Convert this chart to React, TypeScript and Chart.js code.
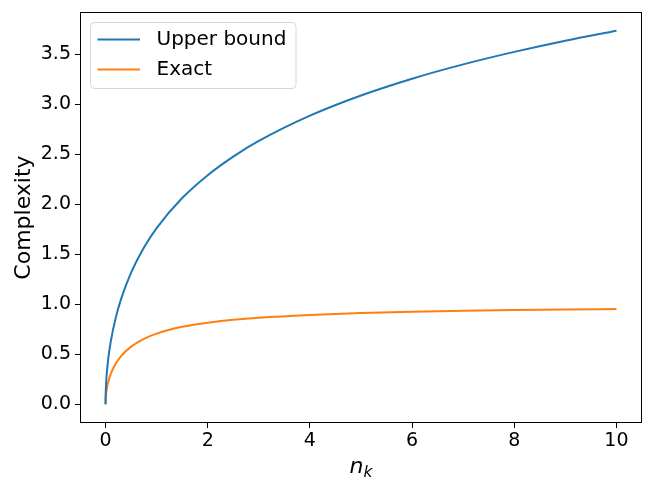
import React, { useEffect, useRef } from "react";
import { Chart, registerables } from "chart.js";

Chart.register(...registerables);

// n_k sample positions and curve values
const nk = [0, 0.002, 0.005, 0.01, 0.02, 0.05, 0.1, 0.2, 0.3, 0.5, 0.75, 1, 1.5, 2, 2.5, 3, 4, 5, 6, 7, 8, 9, 10];
const upperBound = [0, 0.089, 0.141, 0.2, 0.282, 0.444, 0.622, 0.867, 1.047, 1.317, 1.567, 1.763, 2.063, 2.292, 2.478, 2.634, 2.887, 3.089, 3.257, 3.4, 3.525, 3.637, 3.737];
const exact = [0, 0.045, 0.0705, 0.0995, 0.14, 0.218, 0.302, 0.408, 0.48, 0.577, 0.655, 0.707, 0.775, 0.816, 0.845, 0.866, 0.894, 0.913, 0.926, 0.935, 0.943, 0.949, 0.953];
const seriesLabels = ["Upper bound", "Exact"];
const xTicks = [0, 2, 4, 6, 8, 10];
const yTicks = [0, 0.5, 1, 1.5, 2, 2.5, 3, 3.5];
const xTitle = "n";
const xTitleSub = "k";
const yTitle = "Complexity";

const FONT = '"DejaVu Sans", "Liberation Sans", sans-serif';
const COLORS = ["#1f77b4", "#ff7f0e"];

const framePlugin = {
  id: "frameAndLabels",
  afterDatasetsDraw(chart: any) {
    const { ctx, chartArea } = chart;
    const { left, right, top, bottom } = chartArea;
    ctx.save();
    // spines
    ctx.strokeStyle = "#000";
    ctx.lineWidth = 1;
    ctx.strokeRect(left + 0.5, top + 0.5, right - left - 1, bottom - top - 1);

    // legend
    const lx = 90.5, ly = 22.5, lw = 205.5, lh = 66;
    const r = 4;
    ctx.beginPath();
    ctx.moveTo(lx + r, ly);
    ctx.lineTo(lx + lw - r, ly);
    ctx.arcTo(lx + lw, ly, lx + lw, ly + r, r);
    ctx.lineTo(lx + lw, ly + lh - r);
    ctx.arcTo(lx + lw, ly + lh, lx + lw - r, ly + lh, r);
    ctx.lineTo(lx + r, ly + lh);
    ctx.arcTo(lx, ly + lh, lx, ly + lh - r, r);
    ctx.lineTo(lx, ly + r);
    ctx.arcTo(lx, ly, lx + r, ly, r);
    ctx.closePath();
    ctx.fillStyle = "rgba(255,255,255,0.8)";
    ctx.fill();
    ctx.strokeStyle = "#d6d6d6";
    ctx.lineWidth = 1;
    ctx.stroke();

    chart.data.datasets.forEach((ds: any, i: number) => {
      const yy = 39.5 + i * 30;
      ctx.strokeStyle = ds.borderColor;
      ctx.lineWidth = 2;
      ctx.beginPath();
      ctx.moveTo(97.5, yy);
      ctx.lineTo(140, yy);
      ctx.stroke();
      ctx.fillStyle = "#000";
      ctx.font = `20px ${FONT}`;
      ctx.textAlign = "left";
      ctx.textBaseline = "alphabetic";
      ctx.fillText(ds.label, 156.5, yy + 5.5);
    });

    // x title: italic n with subscript k
    ctx.fillStyle = "#000";
    ctx.textBaseline = "alphabetic";
    ctx.textAlign = "left";
    ctx.font = `italic 22px ${FONT}`;
    const wn = ctx.measureText(xTitle).width;
    ctx.font = `italic 15.5px ${FONT}`;
    const wk = ctx.measureText(xTitleSub).width;
    const cx = (left + right) / 2;
    const sx = cx - (wn + wk) / 2;
    ctx.font = `italic 22px ${FONT}`;
    ctx.fillText(xTitle, sx, 472.5);
    ctx.font = `italic 15.5px ${FONT}`;
    ctx.fillText(xTitleSub, sx + wn, 476.5);

    // y title
    ctx.translate(30, (top + bottom) / 2);
    ctx.rotate(-Math.PI / 2);
    ctx.font = `22px ${FONT}`;
    ctx.textAlign = "center";
    ctx.fillText(yTitle, 0, 0);
    ctx.restore();
  },
};

export default function App() {
  const canvasRef = useRef<HTMLCanvasElement | null>(null);

  useEffect(() => {
    const canvas = canvasRef.current;
    if (!canvas) return;
    const mk = (vals: number[]) => nk.map((x, i) => ({ x, y: vals[i] }));
    const chart = new Chart(canvas, {
      type: "line",
      data: {
        datasets: [
          {
            label: seriesLabels[0],
            data: mk(upperBound),
            borderColor: COLORS[0],
            backgroundColor: COLORS[0],
            borderWidth: 2,
            pointRadius: 0,
            fill: false,
            cubicInterpolationMode: "monotone",
          },
          {
            label: seriesLabels[1],
            data: mk(exact),
            borderColor: COLORS[1],
            backgroundColor: COLORS[1],
            borderWidth: 2,
            pointRadius: 0,
            fill: false,
            cubicInterpolationMode: "monotone",
          },
        ],
      },
      options: {
        animation: false,
        responsive: false,
        devicePixelRatio: 1,
        layout: { padding: { top: 12, right: 12, left: 0, bottom: 0 } },
        plugins: {
          legend: { display: false },
          tooltip: { enabled: false },
          title: { display: false },
        },
        scales: {
          x: {
            type: "linear",
            min: -0.5,
            max: 10.5,
            afterBuildTicks: (scale: any) => {
              scale.ticks = xTicks.map((v) => ({ value: v }));
            },
            afterFit: (scale: any) => {
              scale.height = 68;
              scale.paddingLeft = 0;
              scale.paddingRight = 0;
            },
            ticks: {
              color: "#000",
              font: { family: FONT, size: 19 },
              padding: 2,
              maxRotation: 0,
              autoSkip: false,
              callback: (v: any) => String(v),
            },
            grid: {
              display: true,
              drawOnChartArea: false,
              drawTicks: true,
              tickLength: 5,
              tickColor: "#000",
              tickWidth: 1,
            },
            border: { display: false },
          },
          y: {
            type: "linear",
            min: -0.187,
            max: 3.924,
            afterBuildTicks: (scale: any) => {
              scale.ticks = yTicks.map((v) => ({ value: v }));
            },
            afterFit: (scale: any) => {
              scale.width = 80;
              scale.paddingTop = 0;
              scale.paddingBottom = 0;
            },
            ticks: {
              color: "#000",
              font: { family: FONT, size: 19 },
              padding: 4,
              autoSkip: false,
              callback: (v: any) => Number(v).toFixed(1),
            },
            grid: {
              display: true,
              drawOnChartArea: false,
              drawTicks: true,
              tickLength: 5,
              tickColor: "#000",
              tickWidth: 1,
            },
            border: { display: false },
          },
        },
      },
      plugins: [framePlugin],
    } as any);
    return () => chart.destroy();
  }, []);

  return (
    <div style={{ position: "fixed", left: 0, top: 0, width: 654, height: 491, background: "#fff" }}>
      <canvas ref={canvasRef} width={654} height={491} style={{ display: "block" }} />
    </div>
  );
}
